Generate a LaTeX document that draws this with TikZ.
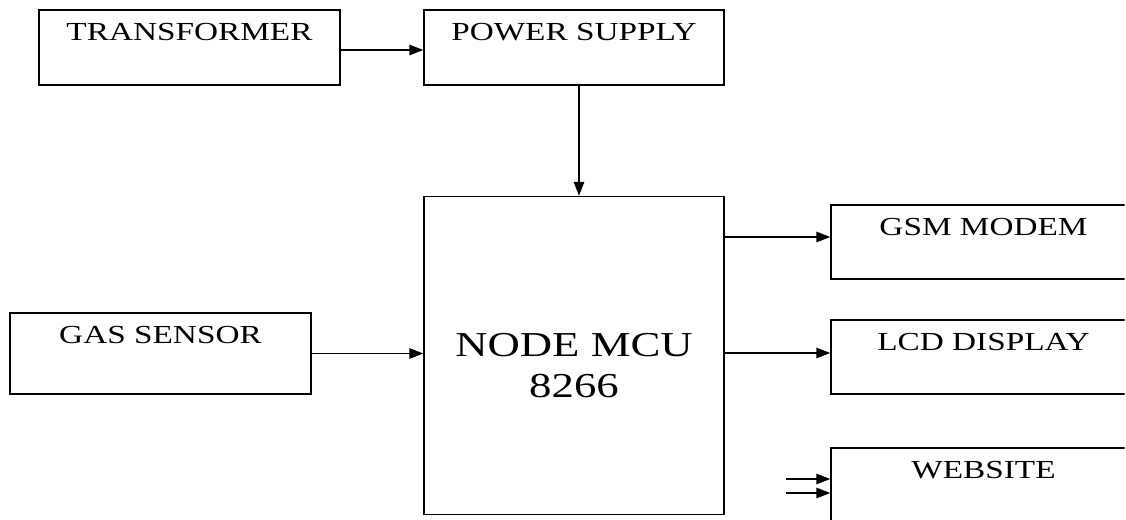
\documentclass[tikz,border=0pt]{standalone}
\usepackage{fontspec}
\setmainfont{Liberation Serif}[FakeStretch=1.28]
\usetikzlibrary{arrows.meta}

\begin{document}
\begin{tikzpicture}[line width=0.8pt,
    blockbox/.style={draw, rectangle, minimum width=6cm, minimum height=1.5cm},
    blocktext/.style={anchor=north, inner sep=0pt, yshift=-0.26cm, font=\fontsize{14.8}{17}\selectfont},
    arr/.style={-{Triangle[length=2.8mm,width=2.1mm]}}]
    \useasboundingbox (0,0) rectangle (22.52,-10.4);
    \clip (0,0) rectangle (22.49,-10.4);

    \node[blockbox, minimum width=6.02cm] (transformer) at (3.79,-0.95) {};
    \node[blockbox] (power) at (11.48,-0.95) {};
    \node[blockbox, minimum height=6.36cm] (mcu) at (11.48,-7.11) {};
    \node[blockbox, minimum width=6.02cm, minimum height=1.62cm] (gas) at (3.21,-7.07) {};
    \node[blockbox, minimum width=7cm, minimum height=1.48cm] (gsm) at (20.12,-4.84) {};
    \node[blockbox, minimum width=7cm, minimum height=1.48cm] (lcd) at (20.12,-7.14) {};
    \node[blockbox, minimum width=7cm, minimum height=1.84cm] (web) at (20.12,-9.88) {};

    \node[blocktext] (transformertext) at (transformer.north) {TRANSFORMER};
    \node[blocktext] (powertext) at (power.north) {POWER SUPPLY};
    \node[blocktext] (gastext) at (gas.north) {GAS SENSOR};
    \node[blocktext] (gsmtext) at ([xshift=-0.45cm]gsm.north) {GSM MODEM};
    \node[blocktext] (lcdtext) at ([xshift=-0.45cm]lcd.north) {LCD DISPLAY};
    \node[blocktext] (webtext) at ([xshift=-0.45cm]web.north) {WEBSITE};
    \node[align=center, font=\fontsize{19.9}{23.2}\selectfont] (mcutext) at ([yshift=-0.2cm]mcu.center) {NODE MCU\\8266};

    \coordinate (webin1) at (15.72,-9.58);
    \coordinate (webin2) at (15.72,-9.86);

    \draw[arr] ([yshift=-0.05cm]transformer.east) -- ([yshift=-0.05cm]power.west);
    \draw[arr] ([xshift=0.1cm]power.south) -- ([xshift=0.1cm]power.south |- mcu.north);
    \draw[arr] (gas.east) -- (gas.east -| mcu.west);
    \draw[arr] ([yshift=0.1cm]mcu.east |- gsm.west) -- ([yshift=0.1cm]gsm.west);
    \draw[arr] ([yshift=0.08cm]mcu.east |- lcd.west) -- ([yshift=0.08cm]lcd.west);
    \draw[arr] (webin1) -- (webin1 -| web.west);
    \draw[arr] (webin2) -- (webin2 -| web.west);
\end{tikzpicture}
\end{document}
